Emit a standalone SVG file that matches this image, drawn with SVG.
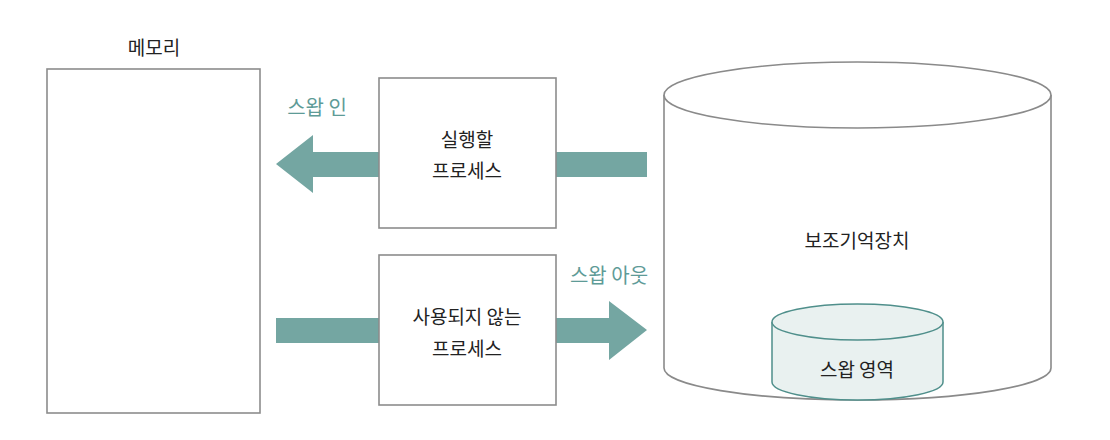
<svg xmlns="http://www.w3.org/2000/svg" width="1110" height="440" viewBox="0 0 1110 440">
<style>
text{font-family:"Noto Sans CJK KR","Noto Sans",sans-serif;font-size:19px;text-anchor:middle;dominant-baseline:central;fill:#222}
.lbl{fill:#5e9b97;font-size:20px}
.box{fill:#fff;stroke:#8c8c8c;stroke-width:1.6}
.arrow{fill:#74a6a2}
.cyl{fill:#fff;stroke:#8a8a8a;stroke-width:1.6}
.swap{fill:#e9f1f0;stroke:#4f8f8b;stroke-width:1.5}
</style>
<rect width="1110" height="440" fill="#fff"/>
<g id="memory">
<text x="154" y="46">메모리</text>
<rect class="box" x="47" y="69" width="213" height="344"/>
</g>
<g id="connectors">
<path class="arrow" d="M379,152 H313 V135 L276,164 L313,193 V177 H379 Z"/>
<rect class="arrow" x="556" y="152" width="91" height="25"/>
<rect class="arrow" x="276" y="318" width="103" height="25"/>
<path class="arrow" d="M556,318 H609 V301 L647,330 L609,360 V343 H556 Z"/>
<text class="lbl" x="317" y="106">스왑 인</text>
<text class="lbl" x="609" y="274">스왑 아웃</text>
</g>
<g id="run-process">
<rect class="box" x="379" y="78" width="177" height="150"/>
<text x="467" y="138">실행할</text>
<text x="467" y="169">프로세스</text>
</g>
<g id="idle-process">
<rect class="box" x="379" y="255" width="177" height="150"/>
<text x="467" y="315">사용되지 않는</text>
<text x="467" y="347">프로세스</text>
</g>
<g id="storage">
<path class="cyl" d="M664,95 V368 A193.5,32 0 0 0 1051,368 V95"/>
<ellipse class="cyl" cx="857.5" cy="95" rx="193.5" ry="33"/>
<text x="857" y="239">보조기억장치</text>
</g>
<g id="swap-area">
<path class="swap" d="M772,322 V382 A85.5,18 0 0 0 943,382 V322"/>
<ellipse class="swap" cx="857.5" cy="322" rx="85.5" ry="18"/>
<text x="857" y="368">스왑 영역</text>
</g>
</svg>
